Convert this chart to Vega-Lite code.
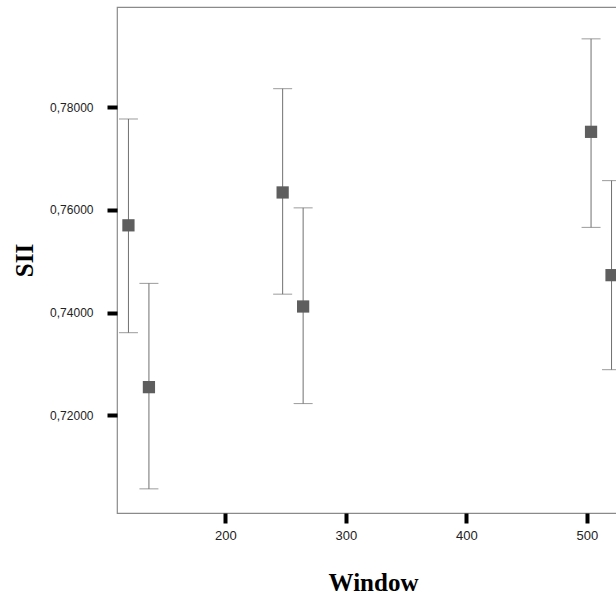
{
  "$schema": "https://vega.github.io/schema/vega-lite/v6.json",
  "autosize": {"type": "none"},
  "padding": {"left": 117, "top": 7, "right": 0, "bottom": 83},
  "width": 512,
  "height": 506,
  "background": "white",
  "config": {
    "view": {"stroke": "#8a8a8a", "strokeWidth": 1.2},
    "axis": {"grid": false, "domain": false, "tickColor": "black", "tickWidth": 4, "tickSize": 10,
      "labelFont": "Liberation Sans", "labelColor": "#222222",
      "titleFont": "Liberation Serif", "titleFontWeight": "bold", "titleFontSize": 25, "titleColor": "black"}
  },
  "data": {"values": [
    {"window": 119.5, "group": "A", "mean": 0.7570, "lo": 0.7361, "hi": 0.7777},
    {"window": 136.5, "group": "B", "mean": 0.7255, "lo": 0.7057, "hi": 0.7457},
    {"window": 247.5, "group": "A", "mean": 0.7634, "lo": 0.7436, "hi": 0.7836},
    {"window": 264.5, "group": "B", "mean": 0.7412, "lo": 0.7223, "hi": 0.7604},
    {"window": 503.5, "group": "A", "mean": 0.7752, "lo": 0.7566, "hi": 0.7933},
    {"window": 520.5, "group": "B", "mean": 0.7473, "lo": 0.7289, "hi": 0.7657}
  ]},
  "layer": [
    {
      "mark": {"type": "rule", "color": "#707070", "strokeWidth": 1},
      "encoding": {
        "x": {"field": "window", "type": "quantitative",
          "scale": {"domain": [110, 535], "nice": false, "zero": false},
          "axis": {"values": [200, 300, 400, 500], "labelFontSize": 13, "labelPadding": 6,
            "title": "Window", "titleBaseline": "alphabetic", "titleY": 77}},
        "y": {"field": "lo", "type": "quantitative",
          "scale": {"domain": [0.7010, 0.7995], "nice": false, "zero": false},
          "axis": {"values": [0.72, 0.74, 0.76, 0.78], "labelFontSize": 12, "labelPadding": 14,
            "labelExpr": "replace(format(datum.value, '.5f'), '.', ',')",
            "title": "SII", "titleBaseline": "alphabetic", "titleX": -85, "titleY": 253, "titleAngle": -90}},
        "y2": {"field": "hi"}
      }
    },
    {
      "mark": {"type": "tick", "orient": "horizontal", "color": "#707070", "size": 19, "thickness": 1},
      "encoding": {
        "x": {"field": "window", "type": "quantitative"},
        "y": {"field": "lo", "type": "quantitative"}
      }
    },
    {
      "mark": {"type": "tick", "orient": "horizontal", "color": "#707070", "size": 19, "thickness": 1},
      "encoding": {
        "x": {"field": "window", "type": "quantitative"},
        "y": {"field": "hi", "type": "quantitative"}
      }
    },
    {
      "mark": {"type": "square", "color": "#5e5e5e", "opacity": 1, "size": 150, "filled": true},
      "encoding": {
        "x": {"field": "window", "type": "quantitative"},
        "y": {"field": "mean", "type": "quantitative"}
      }
    }
  ]
}
